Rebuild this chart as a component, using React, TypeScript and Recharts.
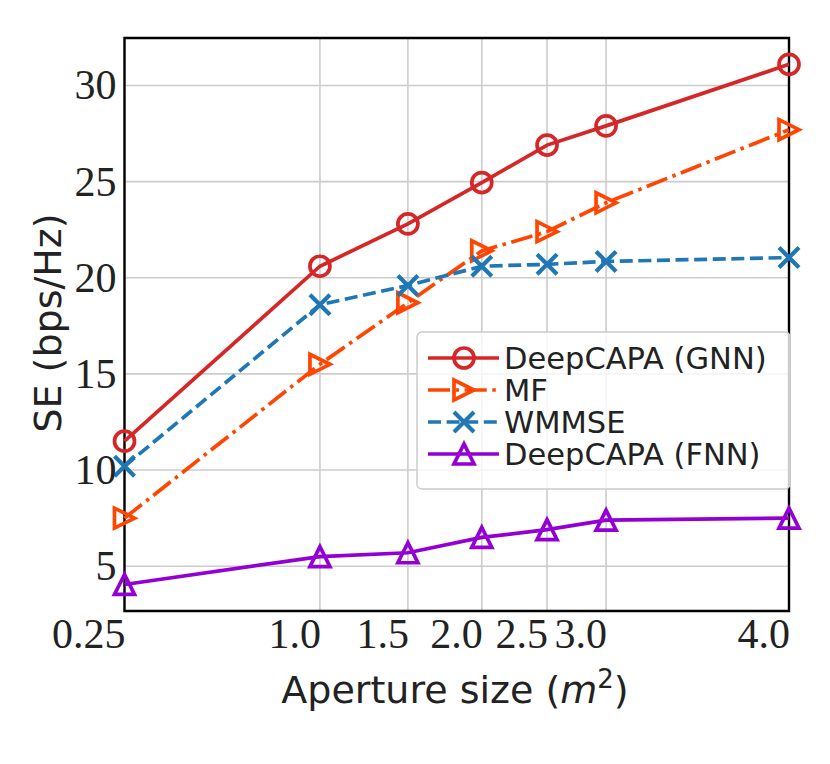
import React from "react";
import {
  LineChart, Line, XAxis, YAxis, CartesianGrid, Legend, ReferenceArea,
} from "recharts";

// aperture size labels and their position on the (square-root) x scale
const APERTURE_LABELS = ["0.25", "1.0", "1.5", "2.0", "2.5", "3.0", "4.0"];
const APERTURE_POS = [0.5, 1.0, 1.225, 1.414, 1.581, 1.732, 2.2];

const GNN = [11.5, 20.6, 22.8, 24.95, 26.9, 27.9, 31.1];
const MF = [7.5, 15.5, 18.7, 21.4, 22.4, 23.9, 27.7];
const WMMSE = [10.2, 18.6, 19.6, 20.6, 20.7, 20.85, 21.05];
const FNN = [4.05, 5.5, 5.7, 6.5, 6.9, 7.4, 7.5];

const Y_TICKS = [5, 10, 15, 20, 25, 30];

type Marker = "circle" | "triRight" | "cross" | "triUp";

const SERIES: { key: string; name: string; color: string; dash?: string; marker: Marker }[] = [
  { key: "gnn", name: "DeepCAPA (GNN)", color: "#d62728", marker: "circle" },
  { key: "mf", name: "MF", color: "#ff4500", dash: "22 5.6 3.5 5.6", marker: "triRight" },
  { key: "wmmse", name: "WMMSE", color: "#1f77b4", dash: "13 5.6", marker: "cross" },
  { key: "fnn", name: "DeepCAPA (FNN)", color: "#9400d3", marker: "triUp" },
];

const data = APERTURE_POS.map((x, i) => ({
  x,
  gnn: GNN[i],
  mf: MF[i],
  wmmse: WMMSE[i],
  fnn: FNN[i],
}));

const SERIF = "'Liberation Serif', 'DejaVu Serif', serif";
const SANS = "'DejaVu Sans', sans-serif";
const LW = 3.7;

function markerShape(kind: Marker, cx: number, cy: number, color: string, key?: string | number) {
  const r = 10;
  const common = { stroke: color, strokeWidth: LW, fill: "none", strokeLinejoin: "miter" as const };
  if (kind === "circle") return <circle key={key} cx={cx} cy={cy} r={r} {...common} />;
  if (kind === "triRight")
    return <polygon key={key} points={`${cx - r},${cy - r} ${cx - r},${cy + r} ${cx + r},${cy}`} {...common} />;
  if (kind === "triUp")
    return <polygon key={key} points={`${cx},${cy - r} ${cx - r},${cy + r} ${cx + r},${cy + r}`} {...common} />;
  return (
    <path key={key} d={`M${cx - r},${cy - r}L${cx + r},${cy + r}M${cx - r},${cy + r}L${cx + r},${cy - r}`}
      stroke={color} strokeWidth={LW + 0.5} fill="none" />
  );
}

function XTick(props: any) {
  const { x, y, payload } = props;
  const i = APERTURE_POS.indexOf(payload.value);
  return (
    <text x={x + 1} y={y + 37} textAnchor="end" fontFamily={SERIF} fontSize={42} fill="#222">
      {APERTURE_LABELS[i]}
    </text>
  );
}

function YTick(props: any) {
  const { x, y, payload } = props;
  return (
    <text x={x - 8} y={y + 14} textAnchor="end" fontFamily={SERIF} fontSize={42} fill="#222">
      {payload.value}
    </text>
  );
}

function LegendBox() {
  return (
    <svg width={376} height={160} style={{ display: "block", overflow: "visible" }}>
      <rect x={1} y={1} width={373} height={157} rx={5} fill="#fff" fillOpacity={0.8} stroke="#cccccc" strokeWidth={1.5} />
      {SERIES.map((s, i) => {
        const cy = 27 + i * 32;
        return (
          <g key={s.key}>
            <line x1={12} x2={83} y1={cy} y2={cy} stroke={s.color} strokeWidth={LW} strokeDasharray={s.dash} />
            {markerShape(s.marker, 48, cy, s.color)}
            <text x={88} y={cy + 11} fontFamily={SANS} fontSize={30.5} fill="#222">{s.name}</text>
          </g>
        );
      })}
    </svg>
  );
}

export default function App() {
  return (
    <div style={{ width: 830, height: 764 }}>
      <style>{"body{margin:0}"}</style>
      <LineChart width={830} height={764} data={data} margin={{ top: 38, right: 41, bottom: 93, left: 0 }}>
        <CartesianGrid stroke="#cccccc" strokeWidth={1.6} />
        <XAxis
          dataKey="x" type="number" domain={[0.5, 2.2]} ticks={APERTURE_POS}
          height={60} tickSize={0} tickMargin={0} axisLine={false} tick={<XTick />} interval={0}
        />
        <YAxis
          type="number" domain={[2.67, 32.47]} ticks={Y_TICKS} width={124.5}
          tickSize={0} tickMargin={0} axisLine={false} tick={<YTick />} interval={0}
        />
        {SERIES.map((s) => (
          <Line
            key={s.key} dataKey={s.key} name={s.name} type="linear" stroke={s.color}
            strokeWidth={LW} strokeDasharray={s.dash} isAnimationActive={false} activeDot={false}
            dot={(p: any) => markerShape(s.marker, p.cx, p.cy, s.color, `${s.key}-${p.index}`)}
          />
        ))}
        <ReferenceArea
          x1={0.5} x2={2.2} y1={2.67} y2={32.47} ifOverflow="visible"
          fill="none" fillOpacity={0} stroke="#000" strokeWidth={2.4}
        />
        <Legend
          layout="vertical" align="center" verticalAlign="middle"
          wrapperStyle={{ position: "absolute", left: 416, top: 331, width: 376, height: 160 }}
          content={() => <LegendBox />}
        />
        <text x={48} y={323} transform="rotate(-90 48 323)" textAnchor="middle" dominantBaseline="central"
          fontFamily={SANS} fontSize={38} fill="#222">
          SE (bps/Hz)
        </text>
        <text x={455} y={703} textAnchor="middle" fontFamily={SANS} fontSize={38} fill="#222">
          <tspan>Aperture size (</tspan>
          <tspan fontStyle="italic">m</tspan>
          <tspan fontSize={26} dy={-15}>2</tspan>
          <tspan dy={15}>)</tspan>
        </text>
      </LineChart>
    </div>
  );
}
